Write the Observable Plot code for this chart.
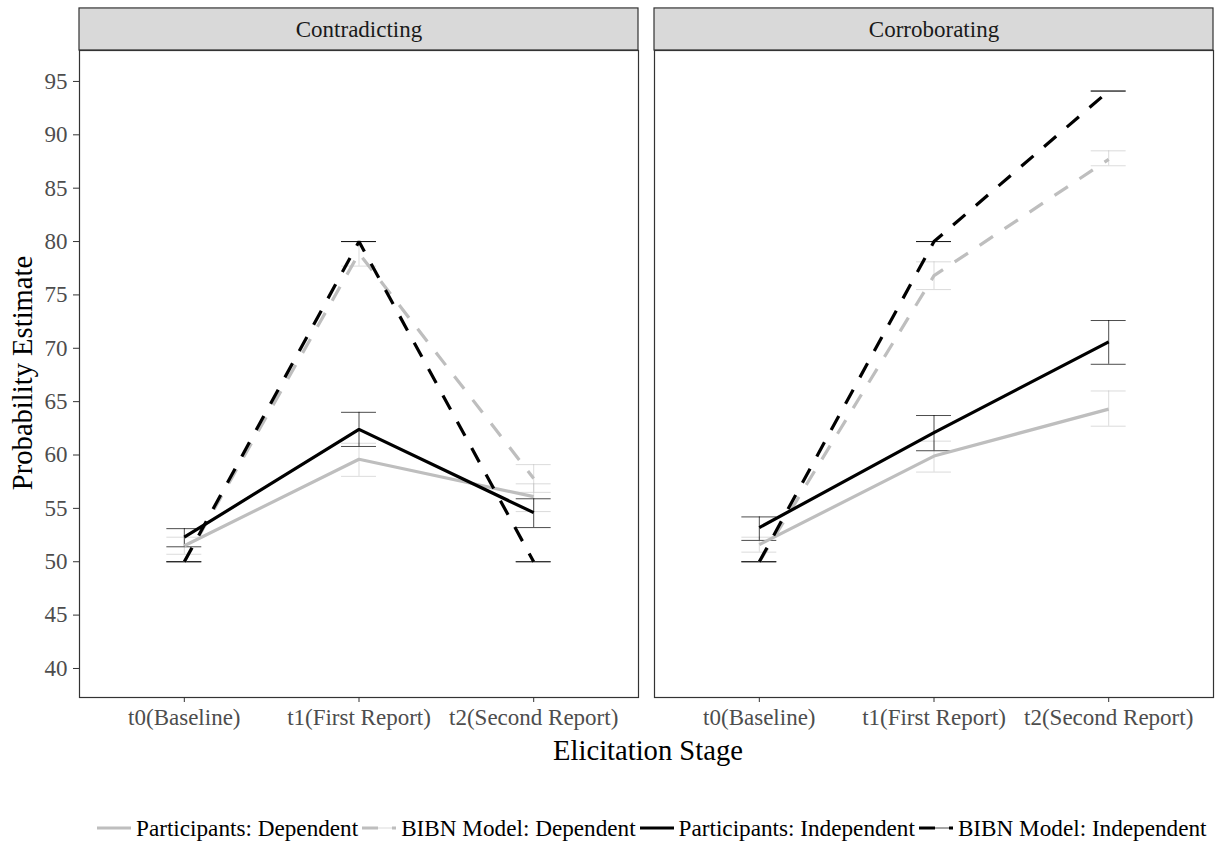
<!DOCTYPE html>
<html>
<head>
<meta charset="utf-8">
<script src="https://cdn.jsdelivr.net/npm/d3@7"></script>
<script src="https://cdn.jsdelivr.net/npm/@observablehq/plot@0.6"></script>
<style>
  body { margin: 0; background: white; font-family: "Liberation Serif", "Times New Roman", serif; }
  #wrap { position: relative; width: 1215px; height: 841px; background: white; }
  .title { position: absolute; color: #000; font-size: 28.6px; line-height: 33px; white-space: nowrap; }
  #xtitle { left: 0; width: 1296px; top: 734px; text-align: center; }
  #ytitle { left: 22px; top: 373px; transform: translate(-50%, -50%) rotate(-90deg); }
  #legend { position: absolute; top: 815px; left: 97px; display: flex; align-items: center; font-size: 23.2px; line-height: 26px; white-space: nowrap; }
  .item { display: flex; align-items: center; margin-right: 4px; }
  .item svg { margin-right: 5px; }
</style>
</head>
<body>
<div id="wrap">
  <div id="chart"></div>
  <div id="xtitle" class="title">Elicitation Stage</div>
  <div id="ytitle" class="title">Probability Estimate</div>
  <div id="legend"></div>
</div>
<script>
// ---- data ----
const stages = ["t0(Baseline)", "t1(First Report)", "t2(Second Report)"];
const conditions = ["Contradicting", "Corroborating"];
const seriesNames = ["Participants: Dependent", "BIBN Model: Dependent", "Participants: Independent", "BIBN Model: Independent"];
const yTicks = [40, 45, 50, 55, 60, 65, 70, 75, 80, 85, 90, 95];

// Contradicting
const contraPartDep      = [51.5, 59.6, 56.1];
const contraPartDepLo    = [50.7, 58.0, 54.7];
const contraPartDepHi    = [52.3, 61.1, 57.3];
const contraModelDep     = [50.0, 78.9, 57.8];
const contraModelDepLo   = [50.0, 77.7, 56.5];
const contraModelDepHi   = [50.0, 80.0, 59.1];
const contraPartInd      = [52.3, 62.4, 54.6];
const contraPartIndLo    = [51.4, 60.8, 53.2];
const contraPartIndHi    = [53.1, 64.0, 55.9];
const contraModelInd     = [50.0, 80.0, 50.0];
const contraModelIndLo   = [50.0, 80.0, 50.0];
const contraModelIndHi   = [50.0, 80.0, 50.0];

// Corroborating
const corrPartDep        = [51.6, 59.9, 64.3];
const corrPartDepLo      = [50.9, 58.4, 62.7];
const corrPartDepHi      = [52.3, 61.3, 66.0];
const corrModelDep       = [50.0, 76.8, 87.7];
const corrModelDepLo     = [50.0, 75.5, 87.1];
const corrModelDepHi     = [50.0, 78.1, 88.5];
const corrPartInd        = [53.2, 62.1, 70.6];
const corrPartIndLo      = [52.0, 60.4, 68.5];
const corrPartIndHi      = [54.2, 63.7, 72.6];
const corrModelInd       = [50.0, 80.0, 94.1];
const corrModelIndLo     = [50.0, 80.0, 94.1];
const corrModelIndHi     = [50.0, 80.0, 94.1];

// ---- styles ----
const seriesStyle = {
  "Participants: Dependent":   {color: "#bebebe", dash: null},
  "BIBN Model: Dependent":     {color: "#bebebe", dash: "16,14"},
  "Participants: Independent": {color: "#000000", dash: null},
  "BIBN Model: Independent":   {color: "#000000", dash: "16,14"}
};

const table = {
  "Contradicting": [
    [contraPartDep, contraPartDepLo, contraPartDepHi],
    [contraModelDep, contraModelDepLo, contraModelDepHi],
    [contraPartInd, contraPartIndLo, contraPartIndHi],
    [contraModelInd, contraModelIndLo, contraModelIndHi]
  ],
  "Corroborating": [
    [corrPartDep, corrPartDepLo, corrPartDepHi],
    [corrModelDep, corrModelDepLo, corrModelDepHi],
    [corrPartInd, corrPartIndLo, corrPartIndHi],
    [corrModelInd, corrModelIndLo, corrModelIndHi]
  ]
};

const rows = [];
for (const c of conditions) {
  seriesNames.forEach((s, si) => {
    const [v, lo, hi] = table[c][si];
    stages.forEach((st, i) => rows.push({condition: c, series: s, i, value: v[i], lo: lo[i], hi: hi[i]}));
  });
}

// layout constants
const yMin = 37.28, yMax = 97.9, stripTop = 101.84;
const capHalf = 0.1;

const seriesMarks = [];
for (const s of seriesNames) {
  const d = rows.filter(r => r.series === s);
  const st = seriesStyle[s];
  const ebStroke = st.color;
  const ebOpacity = st.color === "#000000" ? 0.7 : 0.55;
  seriesMarks.push(
    Plot.ruleX(d, {fx: "condition", x: "i", y1: "lo", y2: "hi", stroke: ebStroke, strokeOpacity: ebOpacity, strokeWidth: 1}),
    Plot.ruleY(d, {fx: "condition", y: "lo", x1: r => r.i - capHalf, x2: r => r.i + capHalf, stroke: ebStroke, strokeOpacity: ebOpacity, strokeWidth: 1}),
    Plot.ruleY(d, {fx: "condition", y: "hi", x1: r => r.i - capHalf, x2: r => r.i + capHalf, stroke: ebStroke, strokeOpacity: ebOpacity, strokeWidth: 1})
  );
}
for (const s of seriesNames) {
  const d = rows.filter(r => r.series === s);
  const st = seriesStyle[s];
  seriesMarks.push(
    Plot.line(d, {fx: "condition", x: "i", y: "value", stroke: st.color, strokeWidth: 3.2,
      strokeDasharray: st.dash || undefined, strokeLinecap: "butt", strokeLinejoin: "miter", curve: "linear"})
  );
}

const chart = Plot.plot({
  width: 1215,
  height: 770,
  marginLeft: 79,
  marginRight: 2,
  marginTop: 50,
  marginBottom: 73,
  style: {fontFamily: "Liberation Serif, Times New Roman, serif", background: "white", overflow: "visible"},
  fx: {domain: conditions, paddingInner: 0.028, paddingOuter: 0, axis: null, label: null},
  x: {domain: [-0.6, 2.6], label: null},
  y: {domain: [yMin, yMax], label: null},
  marks: [
    Plot.rect([0], {y1: yMax, y2: stripTop, fill: "#d9d9d9", stroke: "#333", strokeWidth: 1.2}),
    Plot.text(conditions, {fx: d => d, y: (yMax + stripTop) / 2, text: d => d, frameAnchor: "middle", fontSize: 23, fill: "#1a1a1a"}),
    ...seriesMarks,
    Plot.frame({stroke: "#333", strokeWidth: 1.2}),
    Plot.axisY({ticks: yTicks, tickSize: 6, tickPadding: 6, fontSize: 23, stroke: "#333", fill: "#4d4d4d", label: null}),
    Plot.axisX({ticks: [0, 1, 2], tickFormat: i => stages[i], tickSize: 5, tickPadding: 6, fontSize: 23, stroke: "#333", fill: "#4d4d4d", label: null})
  ]
});
document.getElementById("chart").appendChild(chart);

// legend
const legend = document.getElementById("legend");
for (const s of seriesNames) {
  const st = seriesStyle[s];
  const item = document.createElement("div");
  item.className = "item";
  const ns = "http://www.w3.org/2000/svg";
  const svg = document.createElementNS(ns, "svg");
  svg.setAttribute("width", 34);
  svg.setAttribute("height", 20);
  const thin = document.createElementNS(ns, "line");
  thin.setAttribute("x1", 0); thin.setAttribute("x2", 34);
  thin.setAttribute("y1", 10); thin.setAttribute("y2", 10);
  thin.setAttribute("stroke", st.color);
  thin.setAttribute("stroke-opacity", st.color === "#000000" ? 0.7 : 0.55);
  thin.setAttribute("stroke-width", 1);
  const thick = document.createElementNS(ns, "line");
  thick.setAttribute("x1", 0); thick.setAttribute("x2", 34);
  thick.setAttribute("y1", 10); thick.setAttribute("y2", 10);
  thick.setAttribute("stroke", st.color);
  thick.setAttribute("stroke-width", 3.2);
  if (st.dash) thick.setAttribute("stroke-dasharray", st.dash);
  svg.appendChild(thin); svg.appendChild(thick);
  const label = document.createElement("span");
  label.textContent = s;
  item.appendChild(svg); item.appendChild(label);
  legend.appendChild(item);
}
</script>
</body>
</html>
